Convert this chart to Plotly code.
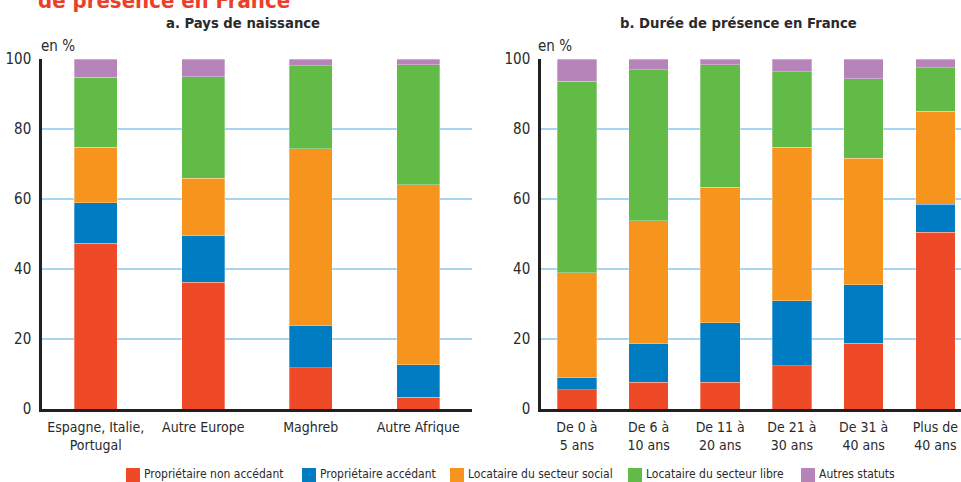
import plotly.graph_objects as go

# # # categories
pays = ['Espagne, Italie,<br>Portugal', 'Autre Europe', 'Maghreb', 'Autre Afrique']
duree = ['De 0 à<br>5 ans', 'De 6 à<br>10 ans', 'De 11 à<br>20 ans',
         'De 21 à<br>30 ans', 'De 31 à<br>40 ans', 'Plus de<br>40 ans']
statuts = ['Propriétaire non accédant', 'Propriétaire accédant',
           'Locataire du secteur social', 'Locataire du secteur libre', 'Autres statuts']
y_ticks = [0, 20, 40, 60, 80, 100]

# # # a. Pays de naissance (en %)
pays_non_accedant = [47.3, 36.2, 11.8, 3.3]
pays_accedant = [11.6, 13.3, 12.0, 9.4]
pays_social = [15.9, 16.4, 50.5, 51.4]
pays_libre = [20.0, 29.0, 23.8, 34.2]
pays_autres = [5.2, 5.1, 1.9, 1.7]

# # # b. Durée de présence en France (en %)
duree_non_accedant = [5.5, 7.7, 7.6, 12.3, 18.8, 50.5]
duree_accedant = [3.5, 11.0, 17.1, 18.7, 16.7, 8.0]
duree_social = [29.9, 35.1, 38.6, 43.8, 36.2, 26.6]
duree_libre = [54.8, 43.2, 35.1, 21.6, 22.7, 12.4]
duree_autres = [6.3, 3.0, 1.6, 3.6, 5.6, 2.5]

colors = ['#ee4a27', '#007cc3', '#f7941e', '#62bb47', '#b784b9']
font = 'Liberation Sans Narrow, Arial Narrow, DejaVu Sans Condensed, sans-serif'
txt = '#2a2a2a'

W, H = 961, 482
T, B = 59, 73


def px(x):
    return x / W


def py(y):
    return (H - B - y) / (H - T - B)


fig = go.Figure()

pays_series = [pays_non_accedant, pays_accedant, pays_social, pays_libre, pays_autres]
duree_series = [duree_non_accedant, duree_accedant, duree_social, duree_libre, duree_autres]

for name, vals, c in zip(statuts, pays_series, colors):
    fig.add_trace(go.Bar(x=pays, y=vals, name=name, width=0.4, showlegend=False,
                         marker=dict(color=c, line=dict(color='rgba(255,255,255,0.5)', width=0.6)),
                         xaxis='x', yaxis='y'))
for name, vals, c in zip(statuts, duree_series, colors):
    fig.add_trace(go.Bar(x=duree, y=vals, name=name, width=0.552, showlegend=False,
                         marker=dict(color=c, line=dict(color='rgba(255,255,255,0.5)', width=0.6)),
                         xaxis='x2', yaxis='y2'))

yax = dict(range=[0, 100], tickvals=y_ticks, showgrid=True, gridcolor='#a5d5f2', gridwidth=2,
           showline=True, linecolor='#231f20', linewidth=2.5, zeroline=False, ticks='',
           automargin=False, ticklabelstandoff=5, tickfont=dict(family=font, size=15, color=txt))
xax = dict(showline=True, linecolor='#231f20', linewidth=2.5, ticks='', showgrid=False,
           automargin=False, tickangle=0, ticklabelstandoff=3,
           tickfont=dict(family=font, size=14, color=txt))

fig.update_layout(
    width=W, height=H, barmode='stack',
    margin=dict(l=0, r=0, t=T, b=B),
    paper_bgcolor='white', plot_bgcolor='white',
    font=dict(family=font, color=txt),
    xaxis=dict(xax, domain=[px(42), px(472)], range=[-0.5, 3.5]),
    yaxis=dict(yax, anchor='x'),
    xaxis2=dict(xax, domain=[px(541), 1], range=[-0.5, 5.358], anchor='y2'),
    yaxis2=dict(yax, anchor='x2'),
)

# # # titles
ann = [
    dict(text='de présence en France', x=px(36), y=py(15), xanchor='left', yanchor='bottom',
         font=dict(size=22, color='#ee3e2a', family=font, weight='bold')),
    dict(text='<b>a. Pays de naissance</b>', x=px(243), y=py(22), xanchor='center', yanchor='middle',
         font=dict(size=14.7, color=txt)),
    dict(text='<b>b. Durée de présence en France</b>', x=px(738), y=py(22), xanchor='center', yanchor='middle',
         font=dict(size=14.7, color=txt)),
    dict(text='en %', x=px(39), y=py(46), xanchor='left', yanchor='middle', font=dict(size=15, color=txt)),
    dict(text='en %', x=px(536), y=py(46), xanchor='left', yanchor='middle', font=dict(size=15, color=txt)),
]

# # # legend drawn by hand
leg_x = [126, 302, 450, 628, 801]
shapes = []
for x0, name, c in zip(leg_x, statuts, colors):
    shapes.append(dict(type='rect', xref='paper', yref='paper', x0=px(x0), x1=px(x0 + 14),
                       y0=py(468), y1=py(482), fillcolor=c, line=dict(width=0)))
    ann.append(dict(text=name, x=px(x0 + 16), y=py(474), xanchor='left', yanchor='middle',
                    font=dict(size=12, color=txt)))

for a in ann:
    a.update(xref='paper', yref='paper', showarrow=False)
fig.update_layout(annotations=ann, shapes=shapes)

# page has a default 8px body margin, drop it so the chart fills the window
fig.write_html('out.html', config={'displayModeBar': False},
               post_script="document.body.style.margin='0';")
